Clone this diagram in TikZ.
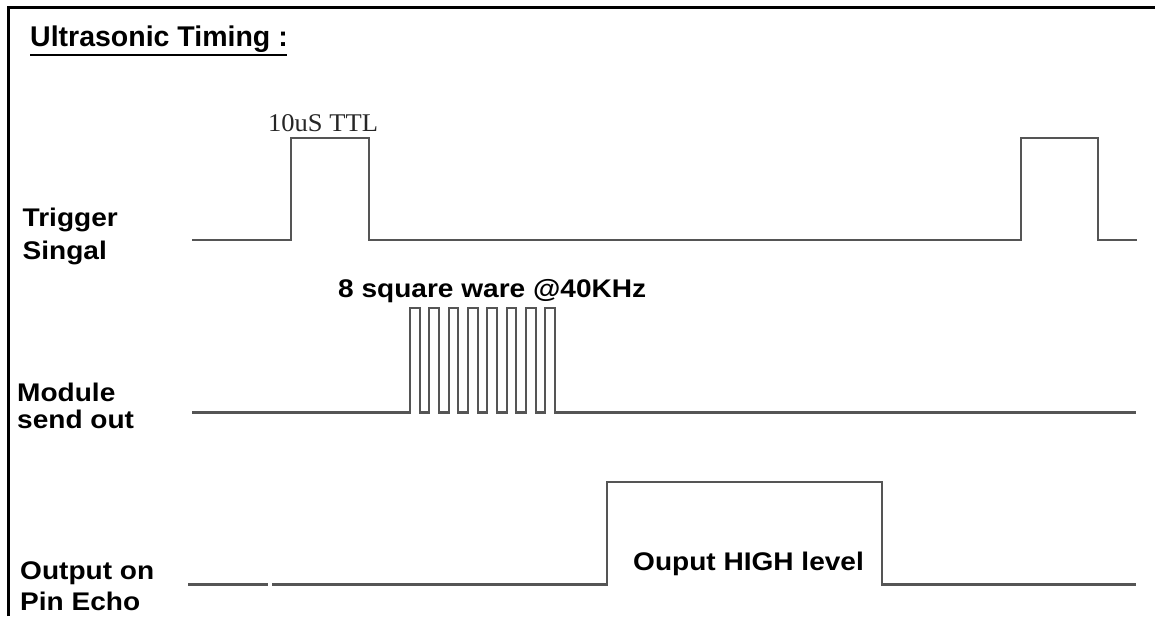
\documentclass[tikz,border=0pt]{standalone}
\usepackage{fontspec}
\setmainfont{Liberation Sans}
\newfontfamily\lab[FakeStretch=1.1]{Liberation Sans}
\newfontfamily\ttl{Liberation Sans}
\newfontfamily\ser[FakeStretch=1.04]{Liberation Serif}
\definecolor{sigc}{RGB}{85,85,85}
\begin{document}
\begin{tikzpicture}[x=1pt,y=-1pt,
  sig/.style={draw=sigc,line width=2.3pt,line join=miter},
  frame/.style={draw=black,line width=2.7pt},
  lbl/.style={anchor=base west,inner sep=0pt,font=\lab\bfseries\fontsize{25.5}{30}\selectfont},
  ttltext/.style={anchor=base west,inner sep=0pt,font=\ttl\bfseries\fontsize{28.5}{32}\selectfont},
  sertext/.style={anchor=base west,inner sep=0pt,text=black!85,font=\ser\fontsize{25.5}{28}\selectfont}]
\useasboundingbox (0,0) rectangle (1155,616);
\fill[white] (0,0) rectangle (1155,616);
% frame (left and top edges)
\draw[frame] (8.7,616) -- (8.7,7.2) -- (1155,7.2);
% title
\node[ttltext] (title) at (30,46.7) {Ultrasonic Timing :};
\draw[black,line width=1.4pt] (30,55) -- (287,55);
% row labels
\node[lbl] (trig1) at (22.5,226) {Trigger};
\node[lbl] (trig2) at (22.5,259.3) {Singal};
\node[lbl] (mod1) at (17,401) {Module};
\node[lbl] (mod2) at (17,428) {send out};
\node[lbl] (out1) at (20,579.3) {Output on};
\node[lbl] (out2) at (20,610) {Pin Echo};
% trigger signal
\draw[sig] (192,240) -- (291,240) -- (291,138) -- (369,138) -- (369,240)
  -- (1021,240) -- (1021,138) -- (1098,138) -- (1098,240) -- (1137,240);
\node[sertext] (ttl) at (268,131.7) {10uS TTL};
% module send out
\draw[sig] (192,412.5) -- (410,412.5)
  \foreach \k in {1,...,8}{ -- ++(0,-104.5) -- ++(9.667,0) -- ++(0,104.5) -- ++(9.667,0)}
  -- (1136,412.5);
\node[lbl] (burst) at (338,297) {8 square ware @40KHz};
% echo output
\draw[sig] (188,584.5) -- (268,584.5);
\draw[sig] (272,584.5) -- (607,584.5) -- (607,482) -- (882,482) -- (882,584.5) -- (1136,584.5);
\node[lbl] (high) at (633,570) {Ouput HIGH level};
\end{tikzpicture}
\end{document}
